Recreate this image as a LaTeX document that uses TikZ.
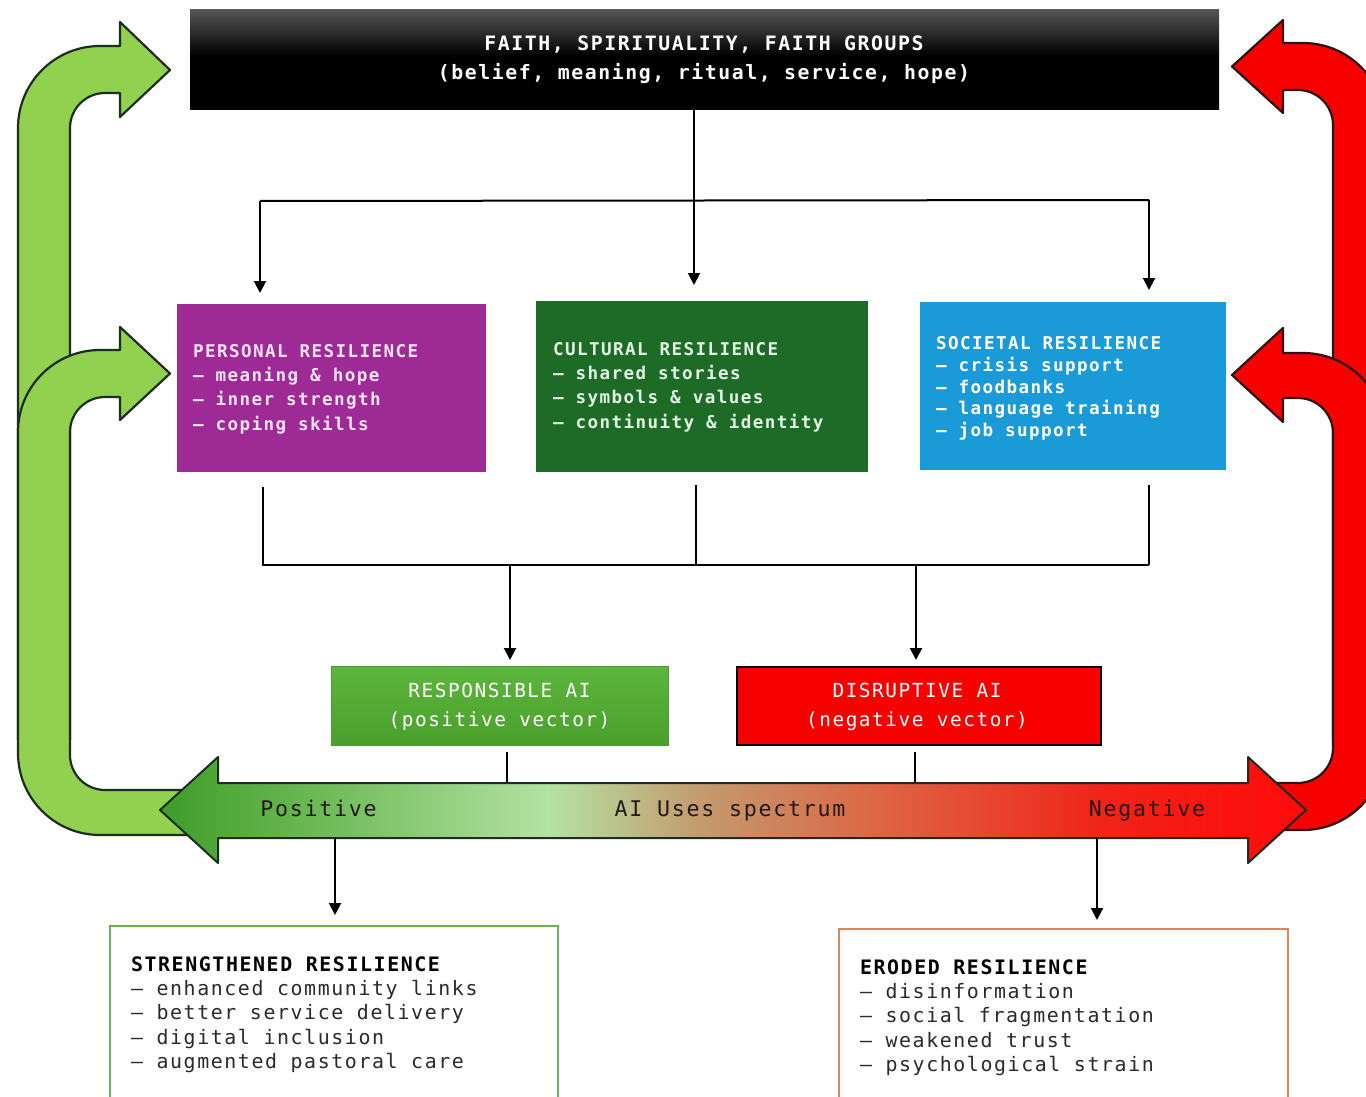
\documentclass[tikz,border=0pt]{standalone}
\usepackage{fontspec}
\newfontfamily\dmono[LetterSpace=8]{DejaVu Sans Mono}
\usetikzlibrary{arrows.meta}
\definecolor{gfill}{HTML}{92D050}
\definecolor{rfill}{HTML}{F80000}
\definecolor{goutl}{HTML}{1C2E22}
\definecolor{routl}{HTML}{2A1414}
\definecolor{persc}{HTML}{9D2A95}
\definecolor{cultc}{HTML}{1E6B27}
\definecolor{socc}{HTML}{1A9AD6}
\definecolor{perst}{HTML}{F6E2F2}
\definecolor{cultt}{HTML}{E2F2E2}
\definecolor{respt}{HTML}{5CB63C}
\definecolor{respb}{HTML}{4A9F2C}
\definecolor{respd}{HTML}{4C9E30}
\definecolor{strongc}{HTML}{6DB24E}
\definecolor{erodc}{HTML}{D98A5C}
\definecolor{tgray}{HTML}{555555}
\definecolor{spt}{HTML}{221A1A}
\definecolor{itemc}{HTML}{2A2A2A}
\definecolor{sp1}{HTML}{3F9A2A}
\definecolor{sp2}{HTML}{52AA3A}
\definecolor{sp3}{HTML}{B4E2A2}
\definecolor{sp4}{HTML}{C49A6E}
\definecolor{sp5}{HTML}{DE6544}
\definecolor{sp6}{HTML}{F02418}
\definecolor{sp7}{HTML}{FF0A0A}
\pgfdeclarehorizontalshading{spec}{100bp}{color(0bp)=(sp1); color(25bp)=(sp1); color(28bp)=(sp2); color(42bp)=(sp3); color(48.6bp)=(sp4); color(56.4bp)=(sp5); color(66bp)=(sp6); color(75bp)=(sp7); color(100bp)=(sp7)}
\pgfdeclareverticalshading{titsh}{100bp}{color(0bp)=(black); color(52bp)=(black); color(75bp)=(tgray); color(100bp)=(tgray)}
\newcommand\fsz[2]{\fontsize{#1}{#2}\selectfont}
\newcommand\firstline{\rule{0pt}{0.8em}}
\begin{document}
\begin{tikzpicture}[x=1pt,y=-1pt,
  greenarrow/.style={fill=gfill, draw=goutl, line width=2.2pt, line join=round},
  redarrow/.style={fill=rfill, draw=routl, line width=2.2pt, line join=round},
  box/.style={rectangle, inner sep=0pt, outer sep=0pt},
  txt/.style={inner sep=0pt, outer sep=0pt, align=left, anchor=north west},
  conn/.style={draw=black, line width=2pt},
  arr/.style={conn, -{Triangle[length=12pt,width=12pt]}},
]
\useasboundingbox (0,0) rectangle (1366,1097);

% ---- green feedback arrows (left)
\path[greenarrow] (200,835) -- (100,835) .. controls (54.7,835) and (18,798.3) .. (18,753)
  -- (18,128) .. controls (18,82.7) and (54.7,46) .. (100,46) -- (120,46) -- (120,22) -- (170,70)
  -- (120,117) -- (120,93) -- (105,93) .. controls (85.7,93) and (70,108.7) .. (70,128)
  -- (70,755) .. controls (70,774.3) and (85.7,790) .. (105,790) -- (200,790) -- cycle;
\fill[gfill] (18,740) -- (18,432) .. controls (18,386.7) and (54.7,350) .. (100,350) -- (120,350)
  -- (120,327) -- (170,373.5) -- (120,420) -- (120,397) -- (105,397)
  .. controls (85.7,397) and (70,412.7) .. (70,432) -- (70,740) -- cycle;
\draw[goutl, line width=2.2pt, line join=round] (18,740) -- (18,432) .. controls (18,386.7) and (54.7,350) .. (100,350) -- (120,350)
  -- (120,327) -- (170,373.5) -- (120,420) -- (120,397) -- (105,397)
  .. controls (85.7,397) and (70,412.7) .. (70,432) -- (70,740);

% ---- red feedback arrows (right)
\path[redarrow] (1260,830) -- (1303,830) .. controls (1348.3,830) and (1385,793.3) .. (1385,748)
  -- (1385,125) .. controls (1385,79.7) and (1348.3,43) .. (1303,43) -- (1283,43) -- (1283,20)
  -- (1232,66.5) -- (1283,113) -- (1283,90) -- (1298,90) .. controls (1317.3,90) and (1333,105.7) .. (1333,125)
  -- (1333,748) .. controls (1333,767.3) and (1317.3,783) .. (1298,783) -- (1260,783) -- cycle;
\fill[rfill] (1385,740) -- (1385,435) .. controls (1385,389.7) and (1348.3,353) .. (1303,353) -- (1283,353)
  -- (1283,328) -- (1232,375) -- (1283,422) -- (1283,398) -- (1298,398)
  .. controls (1317.3,398) and (1333,413.7) .. (1333,433) -- (1333,740) -- cycle;
\draw[routl, line width=2.2pt, line join=round] (1385,740) -- (1385,435) .. controls (1385,389.7) and (1348.3,353) .. (1303,353) -- (1283,353)
  -- (1283,328) -- (1232,375) -- (1283,422) -- (1283,398) -- (1298,398)
  .. controls (1317.3,398) and (1333,413.7) .. (1333,433) -- (1333,740);

% ---- spectrum double arrow
\path[shade, shading=spec, draw=goutl, line width=2pt, line join=round]
  (160,810) -- (218,757) -- (218,783) -- (1248,783) -- (1248,757) -- (1306,810)
  -- (1248,863) -- (1248,838) -- (218,838) -- (218,863) -- cycle;
\node[anchor=base, inner sep=0pt, font=\dmono\fsz{21.6}{26}, text=spt] (lpos) at (318.5,816) {Positive};
\node[anchor=base, inner sep=0pt, font=\dmono\fsz{21.6}{26}, text=spt] (lmid) at (730,816) {AI Uses spectrum};
\node[anchor=base, inner sep=0pt, font=\dmono\fsz{21.6}{26}, text=spt] (lneg) at (1147,816) {Negative};

% ---- boxes
\node[box, shade, shading=titsh, minimum width=1029pt, minimum height=100pt] (title) at (704.5,60) {};
\node[box, fill=persc, minimum width=309pt, minimum height=168pt] (personal) at (331.5,388) {};
\node[box, fill=cultc, minimum width=332pt, minimum height=171pt] (cultural) at (702,386.5) {};
\node[box, fill=socc, minimum width=306pt, minimum height=168pt] (societal) at (1073,386) {};
\node[box, top color=respt, bottom color=respb, draw=respd, line width=1pt, minimum width=337pt, minimum height=79pt] (resp) at (499.5,705.5) {};
\node[box, fill=rfill, draw=black, line width=2pt, minimum width=364pt, minimum height=78pt] (disr) at (919,706) {};
\node[box, fill=white, draw=strongc, line width=2.5pt, minimum width=448pt, minimum height=184pt] (strong) at (334,1018) {};
\node[box, fill=white, draw=erodc, line width=2.5pt, minimum width=449pt, minimum height=181pt] (erod) at (1063.5,1019.5) {};

% ---- texts
\node[txt, anchor=north, align=center, font=\dmono\bfseries\fsz{19.8}{29}, text=white] (titletext) at (704,34.4)
  {\firstline FAITH, SPIRITUALITY, FAITH GROUPS\\(belief, meaning, ritual, service, hope)};
\node[txt, font=\dmono\bfseries\fsz{17.6}{24.2}, text=perst] (ptext) at (193,343.4)
  {\firstline PERSONAL RESILIENCE\\– meaning \& hope\\– inner strength\\– coping skills};
\node[txt, font=\dmono\bfseries\fsz{17.6}{24.2}, text=cultt] (ctext) at (553,341.4)
  {\firstline CULTURAL RESILIENCE\\– shared stories\\– symbols \& values\\– continuity \& identity};
\node[txt, font=\dmono\bfseries\fsz{17.6}{21.8}, text=white] (stext) at (936,335.4)
  {\firstline SOCIETAL RESILIENCE\\– crisis support\\– foodbanks\\– language training\\– job support};
\node[txt, anchor=north, align=center, font=\dmono\fsz{19.4}{29}, text=white] (rtext) at (499.5,681.5)
  {\firstline RESPONSIBLE AI\\(positive vector)};
\node[txt, anchor=north, align=center, font=\dmono\fsz{19.4}{29}, text=white] (dtext) at (917,681.5)
  {\firstline DISRUPTIVE AI\\(negative vector)};
\node[txt, font=\dmono\fsz{19.9}{24.25}, text=itemc] (sttext) at (131,955.5)
  {\firstline{\color{black}\bfseries STRENGTHENED RESILIENCE}\\– enhanced community links\\– better service delivery\\– digital inclusion\\– augmented pastoral care};
\node[txt, font=\dmono\fsz{19.9}{24.25}, text=itemc] (ertext) at (860,958.5)
  {\firstline{\color{black}\bfseries ERODED RESILIENCE}\\– disinformation\\– social fragmentation\\– weakened trust\\– psychological strain};

% ---- connectors: faith to resilience
\coordinate (jtop) at (694,201);
\coordinate (jl) at (260,201);
\coordinate (jr) at (1149,200);
\draw[arr, shorten >=16pt] (title.south -| jtop) -- (jtop |- cultural.north);
\draw[conn] (jl) -- (jr);
\draw[arr, shorten >=11pt] (jl) -- (jl |- personal.north);
\draw[arr, shorten >=12pt] (jr) -- (jr |- societal.north);

% ---- resilience to AI
\coordinate (bl) at (263,565);
\coordinate (bm) at (696,565);
\coordinate (br) at (1149,565);
\draw[conn, line join=miter, shorten <=15pt] (bl |- personal.south) -- (bl) -- (br);
\draw[conn, shorten <=15pt] (br |- societal.south) -- (br);
\draw[conn, shorten <=13pt] (bm |- cultural.south) -- (bm);
\coordinate (rl) at (510,565);
\coordinate (dl) at (916,565);
\draw[arr, shorten >=6pt] (rl) -- (rl |- resp.north);
\draw[arr, shorten >=7pt] (dl) -- (dl |- disr.north);

% ---- AI to spectrum
\coordinate (sl) at (507,783);
\coordinate (sr) at (915,783);
\draw[conn, shorten <=7pt] (sl |- resp.south) -- (sl);
\draw[conn, shorten <=7pt] (sr |- disr.south) -- (sr);

% ---- spectrum to outcomes
\coordinate (pl) at (335,838);
\coordinate (nl) at (1097,838);
\draw[arr, shorten >=11pt] (pl) -- (pl |- strong.north);
\draw[arr, shorten >=9pt] (nl) -- (nl |- erod.north);
\end{tikzpicture}
\end{document}
